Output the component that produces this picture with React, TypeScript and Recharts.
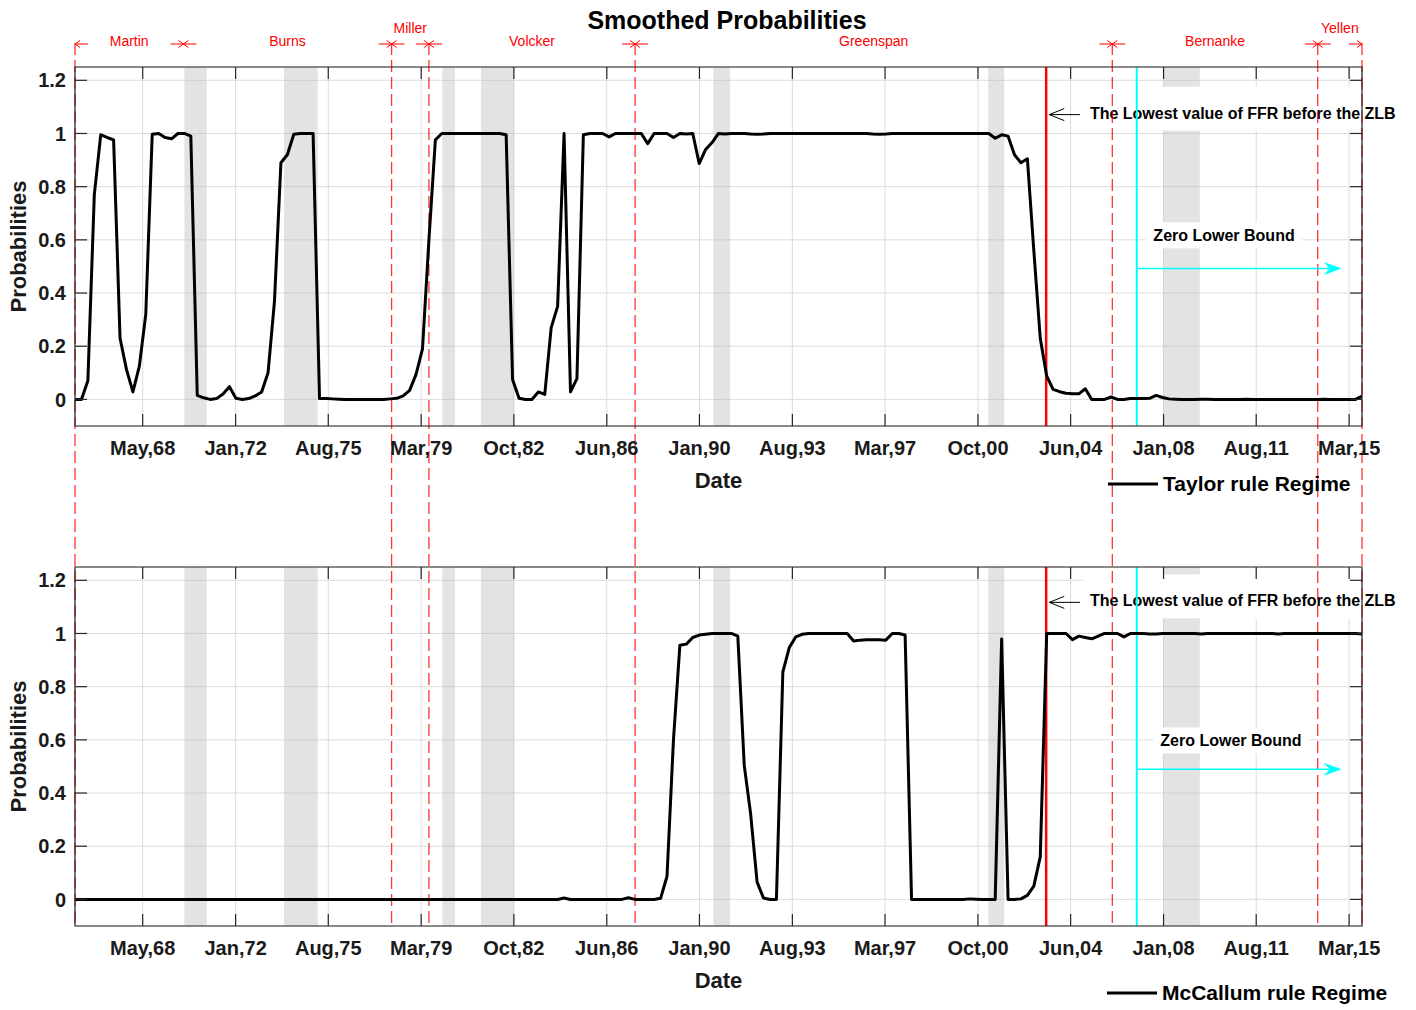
import React from "react";
import {
  CartesianGrid,
  Line,
  LineChart,
  ReferenceArea,
  ReferenceDot,
  ReferenceLine,
  XAxis,
  YAxis,
} from "recharts";

const FONT = '"Liberation Sans", Arial, Helvetica, sans-serif';

// quarterly observations, 1965Q4 .. 2015Q4
const START = 1965.75;
const END = 2015.75;

// smoothed probability of the Taylor rule regime
const taylor = [
  0, 0, 0.07, 0.77, 0.995, 0.985, 0.976, 0.23, 0.113, 0.028,
  0.125, 0.32, 0.997, 1, 0.985, 0.98, 1, 1, 0.99, 0.015,
  0.006, 0, 0.003, 0.02, 0.048, 0.004, 0, 0.003, 0.013, 0.028,
  0.1, 0.37, 0.89, 0.92, 0.997, 1, 1, 1, 0.003, 0.003,
  0.002, 0.001, 0, 0, 0, 0, 0, 0, 0, 0.002,
  0.004, 0.013, 0.034, 0.094, 0.19, 0.6, 0.976, 1, 1, 1,
  1, 1, 1, 1, 1, 1, 1, 0.995, 0.075, 0.004,
  0, 0, 0.028, 0.019, 0.27, 0.35, 1, 0.028, 0.078, 0.995,
  1, 1, 1, 0.987, 1, 1, 1, 1, 1, 0.962,
  1, 1, 1, 0.985, 1, 0.998, 1, 0.887, 0.94, 0.966,
  1, 0.998, 1, 1, 1, 0.998, 0.997, 0.998, 1, 1,
  1, 1, 1, 1, 1, 1, 1, 1, 1, 1,
  1, 1, 1, 1, 0.998, 0.997, 0.998, 1, 1, 1,
  1, 1, 1, 1, 1, 1, 1, 1, 1, 1,
  1, 1, 1, 0.982, 0.995, 0.99, 0.92, 0.89, 0.905, 0.56,
  0.23, 0.088, 0.038, 0.029, 0.023, 0.021, 0.021, 0.04, 0, 0,
  0, 0.009, 0, 0, 0.003, 0.003, 0.003, 0.004, 0.015, 0.007,
  0.002, 0.001, 0, 0, 0, 0.001, 0.001, 0, 0, 0,
  0, 0, 0.001, 0, 0, 0, 0, 0, 0, 0,
  0, 0, 0, 0, 0.001, 0, 0, 0, 0, 0,
  0.012,
];

// smoothed probability of the McCallum rule regime
const mccallum = [
  0, 0, 0, 0, 0, 0, 0, 0, 0, 0,
  0, 0, 0, 0, 0, 0, 0, 0, 0, 0,
  0, 0, 0, 0, 0, 0, 0, 0, 0, 0,
  0, 0, 0, 0, 0, 0, 0, 0, 0, 0,
  0, 0, 0, 0, 0, 0, 0, 0, 0, 0,
  0, 0, 0, 0, 0, 0, 0, 0, 0, 0,
  0, 0, 0, 0, 0, 0, 0, 0, 0, 0,
  0, 0, 0, 0, 0, 0, 0.005, 0, 0, 0,
  0, 0, 0, 0, 0, 0, 0.006, 0, 0, 0,
  0, 0.004, 0.087, 0.6, 0.956, 0.96, 0.985, 0.994, 0.997, 1,
  1, 1, 1, 0.99, 0.504, 0.32, 0.065, 0.005, 0, 0,
  0.856, 0.947, 0.987, 0.997, 1, 1, 1, 1, 1, 1,
  1, 0.972, 0.975, 0.976, 0.976, 0.976, 0.975, 1, 1, 0.994,
  0, 0, 0, 0, 0, 0, 0, 0, 0, 0.002,
  0.001, 0, 0, 0, 0.979, 0, 0, 0.002, 0.015, 0.05,
  0.16, 1, 1, 1, 1, 0.977, 0.99, 0.985, 0.98, 0.99,
  1, 1, 1, 0.987, 1, 1, 1, 0.998, 0.998, 1,
  1, 1, 1, 1, 1, 0.998, 1, 1, 1, 1,
  1, 1, 1, 1, 1, 1, 1, 0.998, 1, 1,
  1, 1, 1, 1, 1, 1, 1, 1, 1, 1,
  0.998,
];

const tickYears = [
  1968.38, 1971.99, 1975.59, 1979.2, 1982.8, 1986.41, 1990.01,
  1993.62, 1997.22, 2000.83, 2004.43, 2008.04, 2011.64, 2015.25,
];
const tickLabels = [
  "May,68", "Jan,72", "Aug,75", "Mar,79", "Oct,82", "Jun,86", "Jan,90",
  "Aug,93", "Mar,97", "Oct,00", "Jun,04", "Jan,08", "Aug,11", "Mar,15",
];
const yTicks = [0, 0.2, 0.4, 0.6, 0.8, 1, 1.2];

// NBER recessions (grey bands)
const recessionStart = [1970.0, 1973.87, 1980.02, 1981.52, 1990.55, 2001.23, 2008.03];
const recessionEnd = [1970.87, 1975.18, 1980.51, 1982.81, 1991.2, 2001.85, 2009.45];

// Fed chairs
const chairs = ["Martin", "Burns", "Miller", "Volcker", "Greenspan", "Bernanke", "Yellen"];
const chairStart = [1965.75, 1969.96, 1978.05, 1979.5, 1987.51, 2006.05, 2014.03];
const chairEnd = [1969.96, 1978.05, 1979.5, 1987.51, 2006.05, 2014.03, 2015.75];
const chairLines = [1965.75, 1978.05, 1979.5, 1987.51, 2006.05, 2014.03, 2015.75];

const lowestFFR = 2003.48;
const zlbStart = 2007.0;
const zlbArrowEnd = 2014.96;
const noteTip = 2003.6;
const noteTail = 2004.79;

const quarters = taylor.map((_, i) => START + i * 0.25);

const AX = "#262626";

const dashedShape = (up: number, down: number) => (p: any) => {
  const top = Math.min(p.y1, p.y2) - up;
  const bottom = Math.max(p.y1, p.y2) + down;
  return (
    <line x1={p.x1} x2={p.x1} y1={top} y2={bottom} stroke="#ff0000"
      strokeOpacity={0.8} strokeWidth={1.3} strokeDasharray="12 5" />
  );
};

const chairShape = (name: string) => (p: any) => {
  const x0 = p.x;
  const x1 = p.x + p.width;
  const top = Math.min(p.y, p.y + p.height);
  const ay = top - 23;
  const ly = top - (p.width < 60 ? 39 : 26);
  return (
    <g stroke="#ff0000" strokeWidth={1} fill="none">
      <line x1={x0} x2={x0 + 13} y1={ay} y2={ay} />
      <polyline points={`${x0 + 5},${ay - 3.5} ${x0},${ay} ${x0 + 5},${ay + 3.5}`} />
      <line x1={x1 - 13} x2={x1} y1={ay} y2={ay} />
      <polyline points={`${x1 - 5},${ay - 3.5} ${x1},${ay} ${x1 - 5},${ay + 3.5}`} />
      <text x={(x0 + x1) / 2} y={ly + 5} textAnchor="middle" fill="#ff0000" stroke="none"
        fontSize={14} fontFamily={FONT}>
        {name}
      </text>
    </g>
  );
};

const noteShape = (p: any) => {
  const tip = Math.min(p.x1, p.x2);
  const tail = Math.max(p.x1, p.x2);
  const y = p.y1;
  return (
    <g>
      <rect x={tail + 4} y={y - 28} width={318} height={44} fill="#fff" />
      <line x1={tip} x2={tail} y1={y} y2={y} stroke="#000" strokeWidth={1} />
      <polyline points={`${tip + 15},${y - 6} ${tip},${y} ${tip + 15},${y + 6}`}
        fill="none" stroke="#000" strokeWidth={1} />
      <text x={tail + 10} y={y + 4} fontSize={16} fontWeight={700} fontFamily={FONT} fill="#000">
        The Lowest value of FFR before the ZLB
      </text>
    </g>
  );
};

const zlbTextShape = (p: any) => (
  <g>
    <rect x={p.cx - 78} y={p.cy - 13} width={156} height={26} fill="#fff" />
    <text x={p.cx} y={p.cy + 6} textAnchor="middle" fontSize={16} fontWeight={700}
      fontFamily={FONT} fill="#000">
      Zero Lower Bound
    </text>
  </g>
);

const zlbArrowShape = (p: any) => {
  const xs = Math.min(p.x1, p.x2);
  const xe = Math.max(p.x1, p.x2);
  const y = p.y1;
  return (
    <g>
      <line x1={xs} x2={xe - 10} y1={y} y2={y} stroke="#00ffff" strokeWidth={1.5} />
      <polygon points={`${xe},${y} ${xe - 18},${y - 6.5} ${xe - 12},${y} ${xe - 18},${y + 6.5}`}
        fill="#00ffff" />
    </g>
  );
};

const xTickShape = (p: any) => {
  const top = Math.min(p.y1, p.y2);
  const bottom = Math.max(p.y1, p.y2);
  return (
    <g stroke={AX} strokeWidth={1.2}>
      <line x1={p.x1} x2={p.x1} y1={top} y2={top + 12} />
      <line x1={p.x1} x2={p.x1} y1={bottom} y2={bottom - 12} />
    </g>
  );
};

const yTickShape = (p: any) => {
  const left = Math.min(p.x1, p.x2);
  const right = Math.max(p.x1, p.x2);
  return (
    <g stroke={AX} strokeWidth={1.2}>
      <line x1={left} x2={left + 12} y1={p.y1} y2={p.y1} />
      <line x1={right} x2={right - 12} y1={p.y1} y2={p.y1} />
    </g>
  );
};

type PanelProps = {
  values: number[];
  top: number;
  height: number;
  marginTop: number;
  up: number;
  down: number;
  header: boolean;
  noteY: number;
  arrowY: number;
  zlbX: number;
  zlbY: number;
};

function Panel({ values, top, height, marginTop, up, down, header, noteY, arrowY, zlbX, zlbY }: PanelProps) {
  const data = quarters.map((t, i) => ({ t, p: values[i] }));
  const tickStyle = { fill: "#1a1a1a", fontSize: 20, fontWeight: 700, fontFamily: FONT };
  return (
    <div style={{ position: "absolute", left: 0, top }}>
      <LineChart
        width={1416}
        height={height}
        data={data}
        margin={{ top: marginTop, right: 54, left: 15, bottom: height - marginTop - 359 - 30 }}
      >
        <CartesianGrid stroke="#dcdcdc" strokeWidth={1} />
        <XAxis
          dataKey="t"
          type="number"
          domain={[START, END]}
          ticks={tickYears}
          interval={0}
          allowDataOverflow
          tickFormatter={(v) => tickLabels[tickYears.indexOf(v)]}
          axisLine={false}
          tickLine={false}
          tickSize={6}
          tickMargin={9}
          height={30}
          tick={tickStyle}
          label={{
            content: ({ viewBox }: any) => (
              <text x={viewBox.x + viewBox.width / 2} y={viewBox.y + 62} textAnchor="middle"
                fontSize={22} fontWeight={700} fontFamily={FONT} fill="#1a1a1a">
                Date
              </text>
            ),
          }}
        />
        <YAxis
          type="number"
          domain={[-0.1, 1.25]}
          ticks={yTicks}
          allowDataOverflow
          axisLine={false}
          tickLine={false}
          tickSize={6}
          tickMargin={3}
          width={60}
          tick={tickStyle}
          label={{
            content: ({ viewBox }: any) => {
              const cx = viewBox.x + viewBox.width - 57;
              const cy = viewBox.y + viewBox.height / 2;
              return (
                <text x={cx} y={cy} transform={`rotate(-90, ${cx}, ${cy})`} textAnchor="middle"
                  dominantBaseline="central" fontSize={22} fontWeight={700} fontFamily={FONT}
                  fill="#1a1a1a">
                  Probabilities
                </text>
              );
            },
          }}
        />

        {recessionStart.map((s, i) => (
          <ReferenceArea key={"r" + i} x1={s} x2={recessionEnd[i]} fill="#bdbdbd"
            fillOpacity={0.42} stroke="none" zIndex={-60} />
        ))}

        <ReferenceLine segment={[{ x: noteTip, y: noteY }, { x: noteTail, y: noteY }]}
          shape={noteShape} ifOverflow="visible" zIndex={-50} />
        <ReferenceDot x={zlbX} y={zlbY} shape={zlbTextShape} zIndex={-50} />

        {chairLines.map((d, i) => (
          <ReferenceLine key={"c" + i} x={d} shape={dashedShape(up, down)} zIndex={-40} />
        ))}
        {header &&
          chairs.map((name, i) => (
            <ReferenceArea key={"h" + i} x1={chairStart[i]} x2={chairEnd[i]}
              shape={chairShape(name)} ifOverflow="visible" zIndex={-40} />
          ))}

        <ReferenceLine x={lowestFFR} stroke="#ff0000" strokeWidth={2.5} zIndex={-30} />
        <ReferenceLine x={zlbStart} stroke="#00ffff" strokeWidth={2} zIndex={-30} />
        <ReferenceLine segment={[{ x: zlbStart, y: arrowY }, { x: zlbArrowEnd, y: arrowY }]}
          shape={zlbArrowShape} zIndex={-30} />

        <Line
          type="linear"
          dataKey="p"
          stroke="#000"
          strokeWidth={3}
          strokeLinejoin="round"
          dot={false}
          activeDot={false}
          isAnimationActive={false}
          zIndex={400}
        />

        <ReferenceArea x1={START} x2={END} y1={-0.1} y2={1.25} fill="none" stroke={AX}
          strokeWidth={1.2} zIndex={500} />
        {tickYears.map((t) => (
          <ReferenceLine key={"xt" + t} x={t} shape={xTickShape} zIndex={500} />
        ))}
        {yTicks.map((v) => (
          <ReferenceLine key={"yt" + v} y={v} shape={yTickShape} zIndex={500} />
        ))}
      </LineChart>
    </div>
  );
}

function LegendItem({ left, top, label }: { left: number; top: number; label: string }) {
  return (
    <div style={{ position: "absolute", left, top, display: "flex", alignItems: "center",
      fontFamily: FONT, fontWeight: 700, fontSize: 21, color: "#000", whiteSpace: "nowrap" }}>
      <svg width={50} height={6}>
        <line x1={0} x2={50} y1={3} y2={3} stroke="#000" strokeWidth={3} />
      </svg>
      <span style={{ marginLeft: 5, lineHeight: "22px" }}>{label}</span>
    </div>
  );
}

export default function App() {
  return (
    <div style={{ position: "absolute", left: 0, top: 0, width: 1416, height: 1010, background: "#fff",
      fontFamily: FONT, overflow: "hidden" }}>
      <Panel values={taylor} top={0} height={520} marginTop={67} up={24} down={94} header
        noteY={1.071} arrowY={0.4925} zlbX={2010.39} zlbY={0.617} />
      <Panel values={mccallum} top={520} height={490} marginTop={47} up={47} down={0} header={false}
        noteY={1.117} arrowY={0.489} zlbX={2010.66} zlbY={0.598} />
      <div style={{ position: "absolute", left: 0, top: 7, width: 1454, textAlign: "center",
        fontSize: 25, fontWeight: 700, lineHeight: "26px", color: "#000" }}>
        Smoothed Probabilities
      </div>
      <LegendItem left={1108} top={473} label="Taylor rule Regime" />
      <LegendItem left={1107} top={982} label="McCallum rule Regime" />
    </div>
  );
}
